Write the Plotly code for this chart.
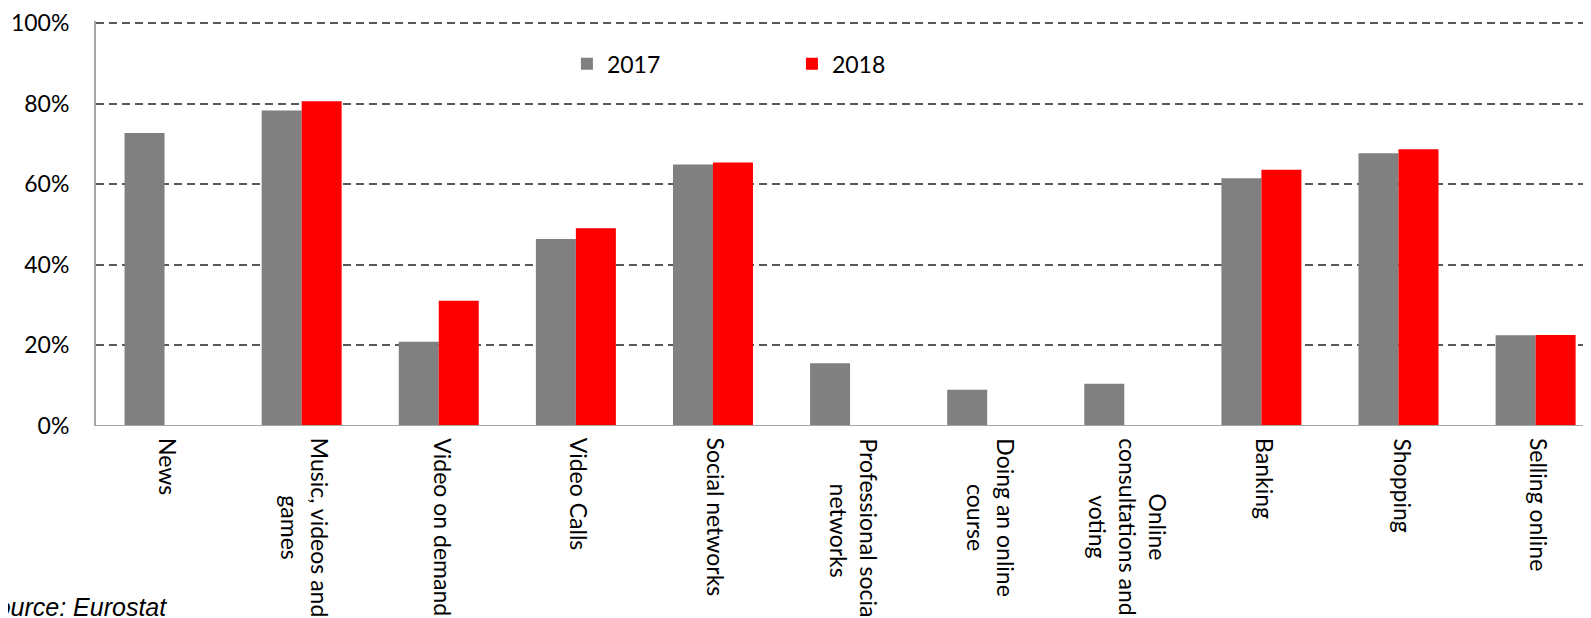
import plotly.graph_objects as go

categories = ["News", "Music, videos and<br>games", "Video on demand", "Video Calls",
              "Social networks", "Professional social<br>networks", "Doing an online<br>course",
              "Online<br>consultations and<br>voting", "Banking", "Shopping", "Selling online"]
values_2017 = [72.7, 78.3, 20.9, 46.4, 64.9, 15.6, 9.0, 10.5, 61.5, 67.7, 22.5]
values_2018 = [None, 80.6, 31.1, 49.1, 65.4, None, None, None, 63.6, 68.7, 22.6]
y_ticks = [0, 20, 40, 60, 80, 100]
series_names = ["2017", "2018"]
source_text = "Source: Eurostat"

# page body has an 8px margin; compensate
W, H = 1583, 610
ML, MT, MB, MR = 88, 11, 192, 0

fig = go.Figure()
fig.add_trace(go.Bar(x=categories, y=values_2017, name=series_names[0],
                     marker=dict(color="#808080", line=dict(width=0))))
fig.add_trace(go.Bar(x=categories, y=values_2018, name=series_names[1],
                     marker=dict(color="#FF0000", line=dict(width=0))))

label_font = dict(family="Lato", size=23, color="#000000")

for c in categories:
    fig.add_annotation(x=c, xref="x", y=0, yref="paper", yshift=-10, xshift=4,
                       text=c, textangle=90, showarrow=False,
                       xanchor="center", yanchor="top", align="center",
                       font=label_font)

fig.add_annotation(x=0, xref="paper", xshift=73, y=0, yref="paper", yshift=-197,
                   text=source_text, showarrow=False, xanchor="right", yanchor="bottom",
                   font=dict(family="Liberation Sans", size=25, color="#000000", style="italic"))

fig.update_layout(
    width=W, height=H,
    margin=dict(l=ML, r=MR, t=MT, b=MB, pad=0),
    paper_bgcolor="white", plot_bgcolor="white",
    barmode="group", bargap=0.4165, bargroupgap=0,
    showlegend=True,
    legend=dict(orientation="h", x=0.315, xanchor="left", y=0.9475, yanchor="top",
                entrywidth=180, entrywidthmode="pixels",
                font=dict(family="Lato", size=23, color="#000000"),
                bgcolor="rgba(0,0,0,0)", itemclick=False),
    xaxis=dict(type="category", range=[-0.5, 10.404], showticklabels=False,
               showgrid=False, zeroline=False, showline=False, ticks=""),
    yaxis=dict(range=[0, 100.5], tickvals=y_ticks, ticktext=[f"{v}%" for v in y_ticks],
               showgrid=True, gridcolor="#595959", gridwidth=2, griddash="8px,5px",
               zeroline=False, showline=True, linecolor="#A6A6A6", linewidth=2,
               ticks="", ticklabelstandoff=20, ticklabeloverflow="allow",
               tickfont=dict(family="Lato", size=23, color="#000000")),
)
# bottom axis line
fig.add_shape(type="line", xref="paper", yref="y", x0=0, x1=1, y0=0, y1=0,
              line=dict(color="#A6A6A6", width=2), layer="above")

fig.write_html("out.html")
